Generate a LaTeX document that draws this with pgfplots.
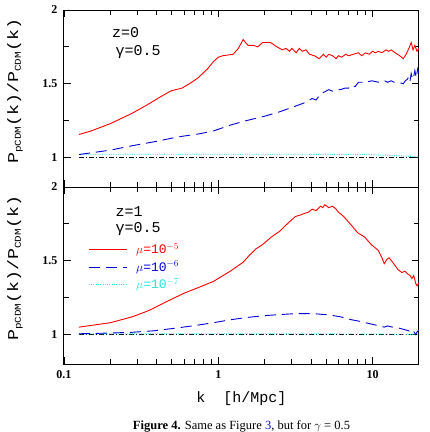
\documentclass[border=0pt]{standalone}
\usepackage{pgfplots}
\pgfplotsset{compat=1.18}
\usepackage{fontspec}
\setmainfont{Liberation Serif}
\newfontfamily\labfont{Liberation Mono}
\definecolor{cyn}{RGB}{40,225,225}
\definecolor{dblue}{RGB}{0,0,215}
\definecolor{lnkblue}{RGB}{20,20,200}
\newcommand{\sub}[1]{\raisebox{-0.35ex}{\fontsize{9}{9}\selectfont #1}}
\newcommand{\ylab}{\labfont\fontsize{15}{15}\selectfont\scalebox{1.22}[1]{P\sub{pCDM}(k)/P\sub{CDM}(k)}}
\tikzset{
  redl/.style={red, line width=0.9pt},
  bluel/.style={dblue, line width=0.9pt, dash pattern=on 11pt off 6pt},
  cyanl/.style={cyn, line width=0.9pt, dash pattern=on 1pt off 1.3pt},
  blackl/.style={black, line width=0.8pt, dash pattern=on 5pt off 2pt on 1pt off 2pt},
}
\begin{document}
\begin{tikzpicture}
\begin{axis}[at={(0,0)}, anchor=south west,
    scale only axis, width=355pt, height=177pt,
    xmode=log, xmin=0.1, xmax=20, ymin=0.8, ymax=2,
    ytick={1,1.5,2}, yticklabels={1,1.5,2},
    minor ytick={1.25,1.75},
    tick align=inside, xtick pos=both, ytick pos=both,
    major tick length=7pt, minor tick length=5pt,
    axis line style={line width=1pt},
    every tick/.style={black, line width=0.8pt},
    /pgf/number format/assume math mode=true,
    tick label style={font=\bfseries\fontsize{12}{12}\selectfont},
    yticklabel style={xshift=-3pt},
    ylabel={\ylab},
    ylabel style={at={(axis description cs:-0.138,0.54)}, anchor=center},
  xtick={0.1,1,10}, xticklabels={}]
\addplot[blackl] coordinates {(0.125,1.0) (20,1.0)};
\addplot[cyanl] coordinates {(0.125,1.022) (3,1.022) (9,1.021) (12,1.016) (16,1.01) (20,1.004)};
\addplot[bluel] coordinates {
(0.125,1.02) (0.2,1.05) (0.277,1.08) (0.4,1.11) (0.55,1.14) (0.75,1.16) (0.93,1.18)
(1.2,1.22) (1.52,1.25) (2.0,1.28) (2.5,1.31) (3.2,1.35) (3.6,1.37) (4.06,1.40) (4.3,1.39) (4.6,1.43)
(5.2,1.46) (5.5,1.45) (5.8,1.46) (6.2,1.46) (6.6,1.47) (7.0,1.47) (7.3,1.49) (7.7,1.48) (8.1,1.51) (8.6,1.51)
(9,1.52) (9.4,1.515) (9.9,1.52) (10.4,1.515) (11,1.51) (11.5,1.52) (12,1.52) (12.5,1.51) (13.2,1.52)
(13.8,1.51) (14.5,1.51) (15.2,1.505) (15.8,1.50) (16.3,1.52) (16.8,1.53) (17.2,1.55) (17.5,1.52)
(17.8,1.57) (18.2,1.53) (18.5,1.55) (18.8,1.59) (19.2,1.54) (19.6,1.60) (20,1.57)};
\addplot[redl] coordinates {
(0.125,1.156) (0.15,1.18) (0.2,1.23) (0.277,1.30) (0.35,1.36) (0.42,1.41) (0.49,1.45)
(0.53,1.46) (0.58,1.47) (0.65,1.50) (0.74,1.54) (0.85,1.60) (0.93,1.65) (1.0,1.68) (1.07,1.69)
(1.25,1.70) (1.35,1.74) (1.45,1.80) (1.5,1.78) (1.56,1.76) (1.7,1.76) (1.80,1.75) (1.94,1.78)
(2.18,1.78) (2.4,1.75) (2.6,1.73) (2.75,1.74) (2.9,1.72) (3.0,1.74) (3.2,1.71) (3.35,1.74)
(3.5,1.72) (3.7,1.73) (3.9,1.70) (4.2,1.69) (4.5,1.67) (4.8,1.70) (5.0,1.68) (5.2,1.70)
(5.5,1.69) (5.8,1.67) (6.0,1.69) (6.3,1.68) (6.7,1.70) (7.0,1.69) (7.5,1.70) (8.1,1.71)
(8.5,1.69) (9.0,1.71) (9.5,1.70) (10.0,1.72) (10.4,1.71) (10.9,1.72) (11.5,1.71) (12.2,1.73)
(12.7,1.72) (13.2,1.73) (14,1.71) (15,1.69) (15.8,1.67) (16.5,1.70) (17.2,1.74) (17.8,1.78)
(18.3,1.73) (18.8,1.76) (19.4,1.72) (20,1.74)};
\node[anchor=west, font=\labfont\fontsize{15}{15}\selectfont, inner sep=0pt] at (rel axis cs:0.135,0.87) {z=0};
\node[anchor=west, font=\labfont\fontsize{15}{15}\selectfont, inner sep=0pt] at (rel axis cs:0.145,0.763) {γ=0.5};
\end{axis}
\begin{axis}[at={(0,-177pt)}, anchor=south west,
    scale only axis, width=355pt, height=177pt,
    xmode=log, xmin=0.1, xmax=20, ymin=0.8, ymax=2,
    ytick={1,1.5,2}, yticklabels={1,1.5,2},
    minor ytick={1.25,1.75},
    tick align=inside, xtick pos=both, ytick pos=both,
    major tick length=7pt, minor tick length=5pt,
    axis line style={line width=1pt},
    every tick/.style={black, line width=0.8pt},
    /pgf/number format/assume math mode=true,
    tick label style={font=\bfseries\fontsize{12}{12}\selectfont},
    yticklabel style={xshift=-3pt},
    ylabel={\ylab},
    ylabel style={at={(axis description cs:-0.138,0.54)}, anchor=center},
  xtick={0.1,1,10}, xticklabels={0.1,1,10},
  xticklabel style={yshift=-3pt},
  xlabel={\labfont\fontsize{15}{15}\selectfont k~~[h/Mpc]},
  xlabel style={yshift=-6pt},
  legend style={draw=none, fill=none, at={(0.068,0.548)}, anchor=west,
    inner sep=0pt, row sep=2pt, font=\labfont\fontsize{13}{13}\selectfont},
  legend cell align=left,
  legend image code/.code={\draw[#1] (0pt,0pt) -- (38pt,0pt);},
]
\addplot[blackl, forget plot] coordinates {(0.125,1.0) (20,1.0)};
\addplot[cyanl, forget plot] coordinates {(0.125,1.004) (5,1.004) (12,1.003) (20,1.0)};
\addplot[bluel, forget plot] coordinates {
(0.125,1.005) (0.2,1.01) (0.277,1.015) (0.38,1.025) (0.5,1.04) (0.7,1.06) (0.93,1.08) (1.2,1.10)
(1.52,1.115) (2.0,1.128) (2.5,1.135) (3.0,1.14) (3.5,1.142) (4.3,1.14) (5.2,1.133) (6.2,1.12)
(7.3,1.10) (8.2,1.09) (9,1.08) (10.9,1.06) (11.9,1.05) (12.5,1.058) (13.2,1.052) (14.6,1.045)
(15.5,1.038) (16.5,1.03) (17.2,1.025) (17.8,1.01) (18.2,1.022) (18.5,1.02) (19,1.0) (19.5,1.02) (20,1.03)};
\addplot[redl, forget plot] coordinates {
(0.125,1.05) (0.2,1.08) (0.277,1.12) (0.35,1.16) (0.457,1.22) (0.6,1.28) (0.75,1.32) (0.93,1.36)
(1.2,1.43) (1.45,1.49) (1.6,1.54) (1.75,1.58) (1.94,1.61) (2.2,1.66) (2.5,1.70) (2.8,1.75)
(3.16,1.80) (3.4,1.81) (3.6,1.82) (3.85,1.83) (4.06,1.85) (4.3,1.84) (4.6,1.87) (4.75,1.86) (4.9,1.88)
(5.2,1.86) (5.5,1.87) (5.8,1.85) (6.0,1.83) (6.5,1.80) (7.3,1.74) (8,1.69) (8.9,1.66) (9.8,1.61)
(10.9,1.57) (11.5,1.52) (11.9,1.48) (12.4,1.51) (12.8,1.52) (13.5,1.49) (14.6,1.44) (15.5,1.42)
(16.2,1.43) (16.9,1.41) (17.5,1.40) (18,1.38) (18.5,1.40) (19,1.35) (19.4,1.33) (20,1.35)};
\addlegendimage{redl}
\addlegendentry{\hspace{7pt}\textcolor{red}{$\mu$=10$^{-5}$}}
\addlegendimage{bluel}
\addlegendentry{\hspace{7pt}\textcolor{dblue}{$\mu$=10$^{-6}$}}
\addlegendimage{cyanl}
\addlegendentry{\hspace{7pt}\textcolor{cyn}{$\mu$=10$^{-7}$}}
\node[anchor=west, font=\labfont\fontsize{15}{15}\selectfont, inner sep=0pt] at (rel axis cs:0.145,0.859) {z=1};
\node[anchor=west, font=\labfont\fontsize{15}{15}\selectfont, inner sep=0pt] at (rel axis cs:0.145,0.763) {γ=0.5};
\end{axis}
\node[anchor=base, font=\fontsize{12.5}{12.5}\selectfont] at (177.5pt,-242pt)
  {\textbf{Figure 4.} Same as Figure \textcolor{lnkblue}{3}, but for $\gamma$ = 0.5};
\pgfresetboundingbox
\path[use as bounding box] (-64pt,187pt) rectangle (366pt,-245pt);
\end{tikzpicture}
\end{document}
